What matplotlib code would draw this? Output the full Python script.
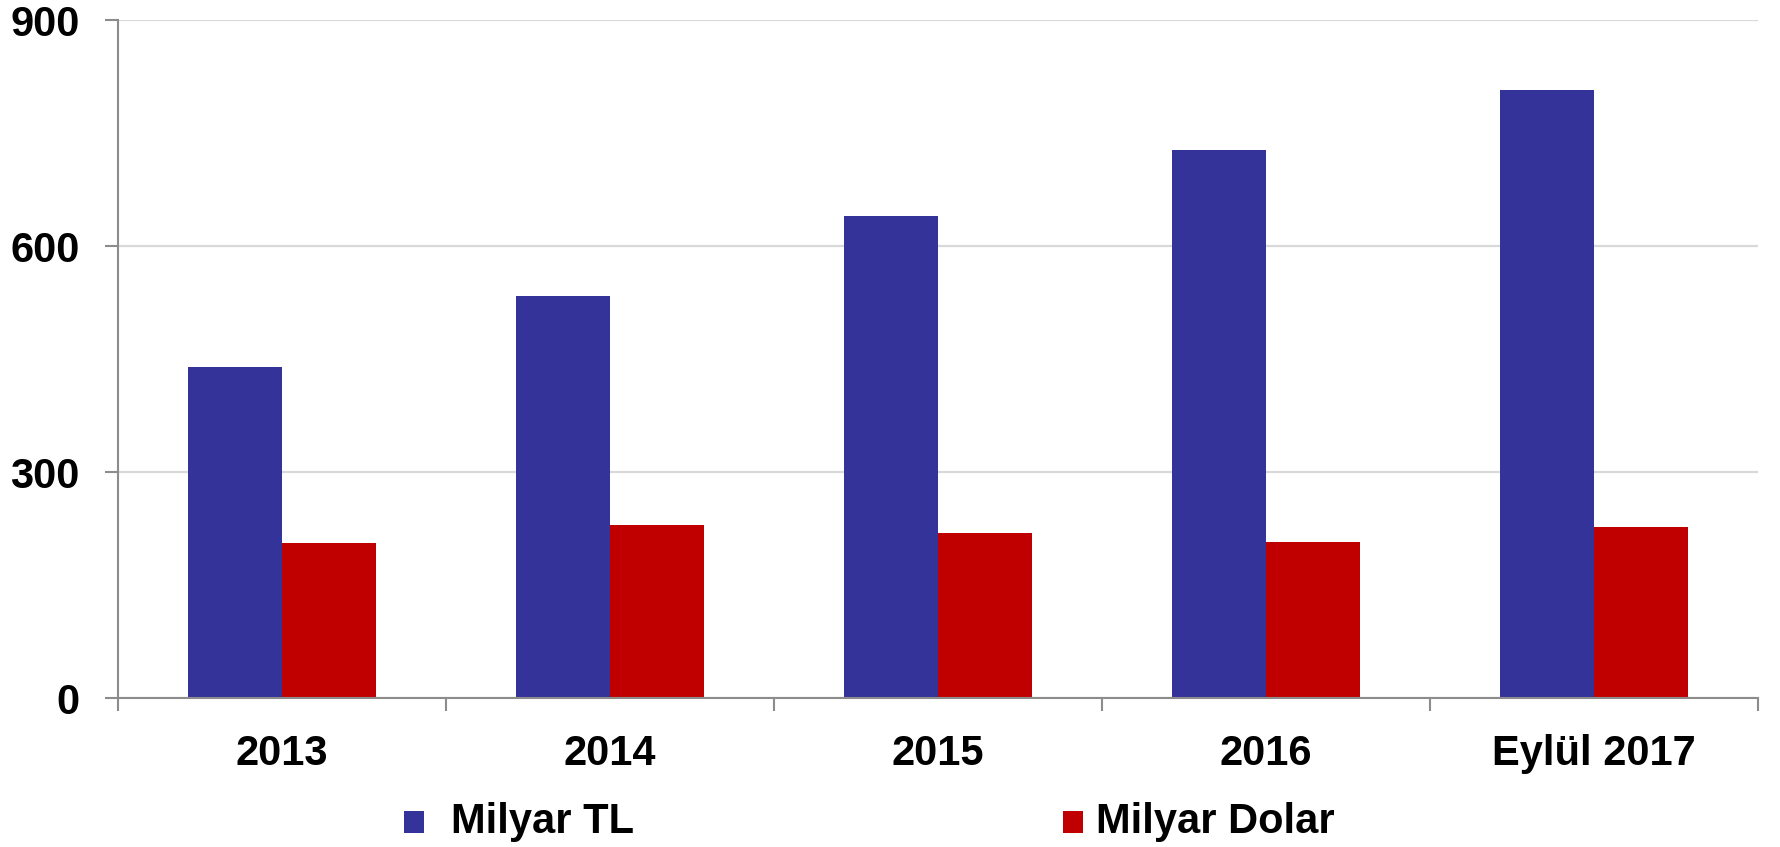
import matplotlib
matplotlib.use("Agg")
import matplotlib.pyplot as plt
from matplotlib.patches import Rectangle
import numpy as np

categories = ["2013", "2014", "2015", "2016", "Eylül 2017"]
milyar_tl = [439, 533, 640, 727, 807]
milyar_dolar = [206, 229, 219, 207, 227]
series_labels = ["Milyar TL", "Milyar Dolar"]
yticks = [0, 300, 600, 900]

BLUE = "#333399"
RED = "#C00000"
SPINE = "#8c8c8c"

plt.rcParams['font.family'] = ['Liberation Sans', 'DejaVu Sans']

fig = plt.figure(figsize=(17.81, 8.47), dpi=100)
ax = fig.add_axes([118/1781, 1-698/847, (1758-118)/1781, (698-20)/847])

x = np.arange(len(categories))
w = 0.2866
ax.bar(x - w/2, milyar_tl, width=w, color=BLUE, linewidth=0, zorder=3)
ax.bar(x + w/2, milyar_dolar, width=w, color=RED, linewidth=0, zorder=3)

ax.set_xlim(-0.5, len(categories) - 0.5)
ax.set_ylim(0, 900)
ax.set_yticks(yticks)
ax.set_yticklabels([str(v) for v in yticks], fontsize=30, fontweight='bold')
ax.set_xticks(x)
ax.set_xticklabels(categories, fontsize=30, fontweight='bold')
ax.set_xticks(np.arange(-0.5, len(categories)), minor=True)
ax.tick_params(axis='x', which='major', length=0, pad=26)
ax.tick_params(axis='x', which='minor', length=9, width=1.5, color=SPINE, direction='out')
ax.tick_params(axis='y', which='major', length=9.5, width=1.5, color=SPINE, direction='out', pad=18)

ax.grid(axis='y', color='#d9d9d9', linewidth=1.6, zorder=0)
ax.set_axisbelow(True)
for s in ['top', 'right']:
    ax.spines[s].set_visible(False)
for s in ['left', 'bottom']:
    ax.spines[s].set_color(SPINE)
    ax.spines[s].set_linewidth(1.5)
    ax.spines[s].set_zorder(4)

# Legend (manual placement)
W, H = 1781, 847
legend_items = [(series_labels[0], BLUE, 404, 451), (series_labels[1], RED, 1063, 1096)]
for label, col, mx, tx in legend_items:
    fig.patches.append(Rectangle((mx/W, 1-833/H), 20/W, 22/H, transform=fig.transFigure,
                                 facecolor=col, edgecolor='none'))
    fig.text(tx/W, 1-822/H, label, fontsize=30, fontweight='bold', va='center', ha='left')

fig.savefig("out.png", dpi=100)
